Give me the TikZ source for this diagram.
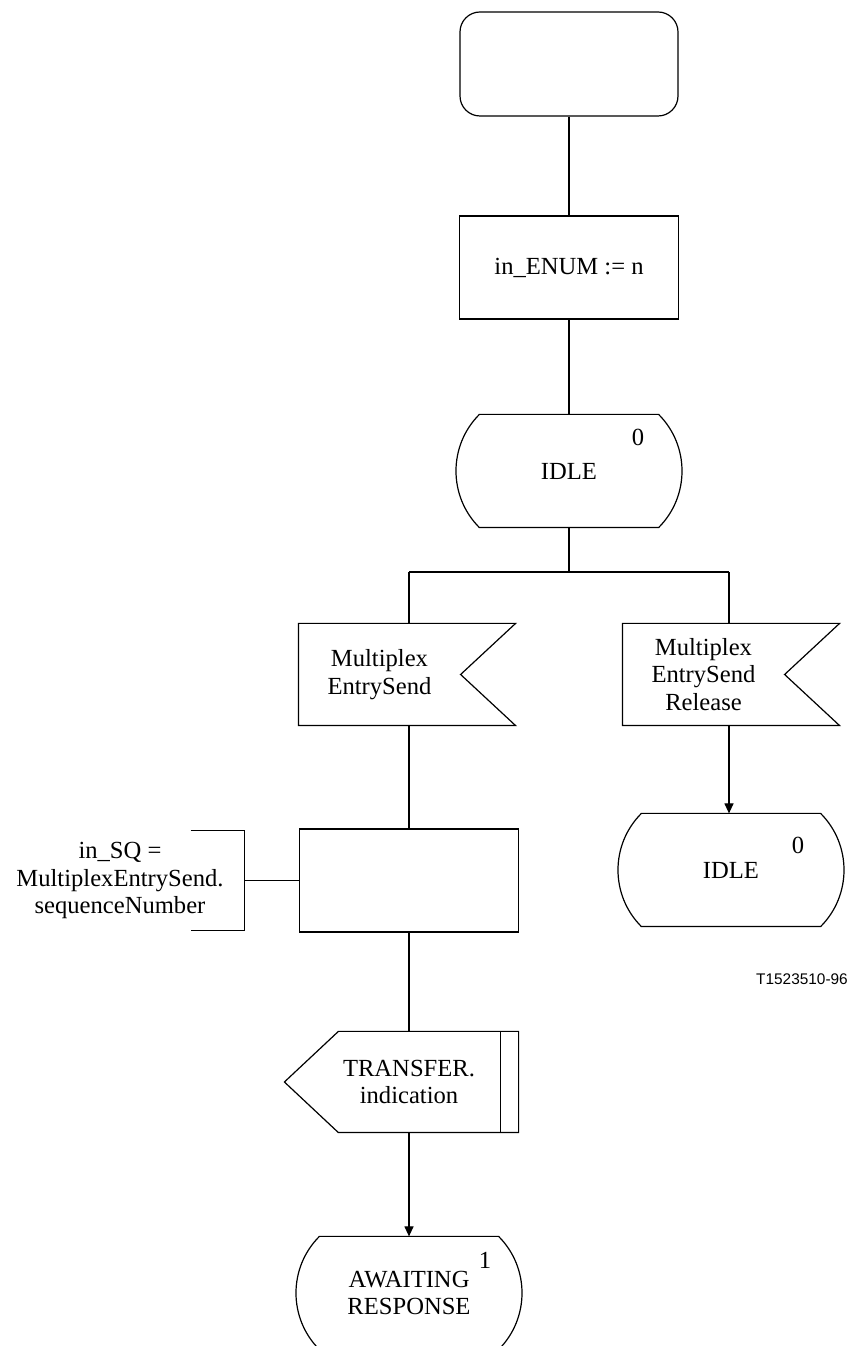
\documentclass[tikz,border=0pt]{standalone}
\usepackage{fontspec}
\setmainfont{Liberation Serif}
\newfontfamily\figlabelfont{Liberation Sans}
\usetikzlibrary{arrows.meta}

\begin{document}
\begin{tikzpicture}[
    x=0.5pt, y=0.5pt,
    line width=0.6pt,
    every node/.style={font=\fontsize{12.3}{13.7}\selectfont},
    start/.style={draw, rounded corners=10pt, minimum width=109pt, minimum height=52pt},
    taskbox/.style={draw, minimum width=109.5pt, minimum height=51.5pt, align=center},
    state/.style={minimum width=112pt, minimum height=56pt, align=center,
        append after command={\pgfextra{\draw ([xshift=11.5pt]\tikzlastnode.north west) -- ([xshift=-11.5pt]\tikzlastnode.north east) to[bend left=45] ([xshift=-11.5pt]\tikzlastnode.south east) -- ([xshift=11.5pt]\tikzlastnode.south west) to[bend left=45] ([xshift=11.5pt]\tikzlastnode.north west) -- cycle;}}},
    input/.style={minimum width=80.5pt, minimum height=50.5pt, align=center,
        append after command={\pgfextra{\draw (\tikzlastnode.north west) -- ([xshift=27.5pt]\tikzlastnode.north east) -- (\tikzlastnode.east) -- ([xshift=27.5pt]\tikzlastnode.south east) -- (\tikzlastnode.south west) -- cycle;}}},
    output/.style={minimum width=109pt, minimum height=50pt, align=center,
        append after command={\pgfextra{\draw ([xshift=-7.5pt]\tikzlastnode.west) -- ([xshift=19.5pt]\tikzlastnode.north west) -- (\tikzlastnode.north east) -- (\tikzlastnode.south east) -- ([xshift=19.5pt]\tikzlastnode.south west) -- cycle;
            \draw ([xshift=-9pt]\tikzlastnode.north east) -- ([xshift=-9pt]\tikzlastnode.south east);}}},
    comment/.style={minimum width=124pt, minimum height=49.5pt, align=center,
        append after command={\pgfextra{\draw ([xshift=-27pt]\tikzlastnode.north east) -- (\tikzlastnode.north east) -- (\tikzlastnode.south east) -- ([xshift=-27pt]\tikzlastnode.south east);}}},
    arrowlink/.style={-{Triangle[length=5pt, width=4.5pt]}},
]
\useasboundingbox (0,0) rectangle (852,1346);
\clip (0,0) rectangle (852,1346);
\node[start] (s0) at (569,1282) {};
\node[taskbox] (t1) at (569,1078.5) {in\_ENUM := n};
\node[state] (st1) at (569,875) {IDLE};
\node (n1) at (638,909) {0};
\coordinate (b0) at (569,774);
\coordinate (b1) at (409,774);
\coordinate (b2) at (729,774);
\node[input] (in1) at (379.5,671.5) {Multiplex\\EntrySend};
\node[input] (in2) at (703.5,671.5) {Multiplex\\EntrySend\\Release};
\node[taskbox] (t2) at (409,465.5) {};
\node[comment] (c1) at (120,465.5) {in\_SQ =\\MultiplexEntrySend.\\sequenceNumber};
\node[state] (st2) at (731,476) {IDLE};
\node (n2) at (798,501) {0};
\node[font=\figlabelfont\fontsize{7.7}{9}\selectfont] (fig) at (802,367) {T1523510-96};
\node[output] (out1) at (409,264) {TRANSFER.\\indication};
\node[state] (st3) at (409,53) {AWAITING\\RESPONSE};
\node (n3) at (485,86) {1};
\draw (s0.south) -- (t1.north);
\draw (t1.south) -- (st1.north);
\draw (st1.south) -- (b0);
\draw (b1) -- (b2);
\draw (b1) -- (b1 |- in1.north);
\draw (b2) -- (b2 |- in2.north);
\draw (b1 |- in1.south) -- (t2.north);
\draw[arrowlink] (b2 |- in2.south) -- (b2 |- st2.north);
\draw (c1.east) -- (t2.west);
\draw (t2.south) -- (out1.north);
\draw[arrowlink] (out1.south) -- (st3.north);
\end{tikzpicture}
\end{document}
